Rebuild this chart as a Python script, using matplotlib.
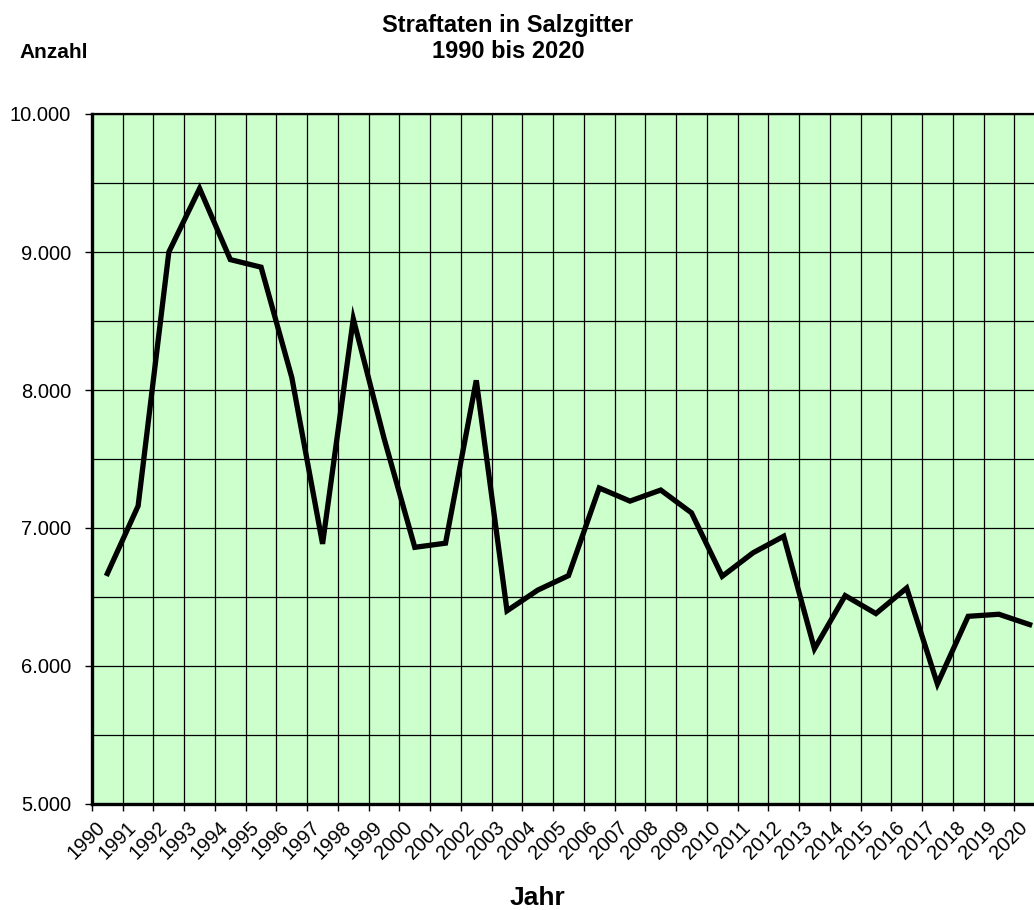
import numpy as np
import matplotlib
matplotlib.use("Agg")
import matplotlib.pyplot as plt
import matplotlib.transforms as mtransforms
from matplotlib.ticker import FuncFormatter

plt.rcParams['font.family'] = ['Liberation Sans', 'DejaVu Sans']

years = list(range(1990, 2021))
values = [6670, 7160, 9000, 9460, 8945, 8890, 8090, 6885, 8515, 7650,
          6860, 6890, 8070, 6400, 6550, 6655, 7290, 7195, 7275, 7110,
          6650, 6820, 6940, 6125, 6510, 6380, 6565, 5870, 6360, 6375,
          6300]
title_lines = ["Straftaten in Salzgitter", "1990 bis 2020"]
y_label = "Anzahl"
x_label = "Jahr"

W, H = 1034, 910
fig = plt.figure(figsize=(W / 100, H / 100), dpi=100)
ax = fig.add_axes([92 / W, 1 - 804 / H, 953 / W, 690 / H])
ax.set_facecolor('#CCFFCC')

x = np.arange(len(years))
ax.plot(x, values, color='black', lw=3.8, solid_joinstyle='miter', zorder=3)

ax.set_xlim(-0.5, len(years) - 0.5)
ax.set_ylim(5000, 10000)

# x: labels at category centers, ticks/grid at boundaries
ax.set_xticks(x)
ax.set_xticklabels([str(y) for y in years], rotation=45, ha='right',
                   va='center', rotation_mode='anchor', fontsize=14.5)
ax.tick_params(axis='x', which='major', length=0, pad=15)
shift = mtransforms.ScaledTranslation(-5 / 100, 0, fig.dpi_scale_trans)
for lbl in ax.get_xticklabels():
    lbl.set_transform(lbl.get_transform() + shift)
ax.set_xticks(np.arange(-0.5, len(years), 1), minor=True)
ax.tick_params(axis='x', which='minor', length=5, width=1, color='black')
ax.grid(True, axis='x', which='minor', color='black', lw=0.9, zorder=1)

ax.set_yticks(np.arange(5000, 10001, 1000))
ax.yaxis.set_major_formatter(FuncFormatter(lambda v, p: f"{int(v):,}".replace(',', '.')))
ax.set_yticks(np.arange(5500, 10000, 1000), minor=True)
ax.tick_params(axis='y', which='major', length=5, width=1, pad=10, labelsize=14.5)
ax.tick_params(axis='y', which='minor', length=0)
ax.grid(True, axis='y', which='both', color='black', lw=0.9, zorder=1)
ax.set_axisbelow(True)

for s in ['left', 'bottom']:
    ax.spines[s].set_linewidth(2.4)
ax.spines['top'].set_linewidth(1.6)
ax.spines['right'].set_linewidth(1.6)

fig.text(508 / W, 1 - 32 / H, title_lines[0], ha='center', va='baseline',
         fontsize=17, fontweight='bold')
fig.text(508 / W, 1 - 58 / H, title_lines[1], ha='center', va='baseline',
         fontsize=17, fontweight='bold')
fig.text(54 / W, 1 - 58 / H, y_label, ha='center', va='baseline',
         fontsize=15, fontweight='bold')
fig.text(537 / W, 1 - 905 / H, x_label, ha='center', va='baseline',
         fontsize=19, fontweight='bold')

fig.savefig('out.png', dpi=100)
